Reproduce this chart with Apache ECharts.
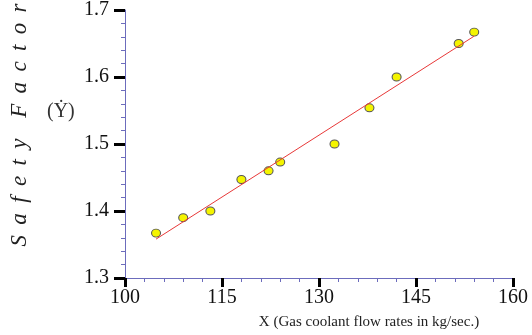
<!DOCTYPE html>
<html>
<head>
<meta charset="utf-8">
<script src="https://cdn.jsdelivr.net/npm/echarts@6/dist/echarts.min.js"></script>
</head>
<body style="margin:0;background:#fff">
<div id="chart" style="width:532px;height:335px"></div>
<script>
// measured points (x = gas coolant flow, y = safety factor)
const flowRates = [104.8, 109.0, 113.2, 118.0, 122.2, 124.0, 132.4, 137.8, 142.0, 151.6, 154.0]
const safetyFactors = [1.367, 1.390, 1.400, 1.447, 1.460, 1.473, 1.500, 1.554, 1.600, 1.650, 1.667]
// fitted line ends
const fitX = [104.8, 154.0]
const fitY = [1.358, 1.661]

const axisBlue = '#6c6cbc'
const serif = '"Liberation Serif", "Times New Roman", serif'
const gap = ' \u2009'
const yTitle = ['S', 'a', 'f', 'e', 't', 'y'].join(gap) + gap + gap + ['F', 'a', 'c', 't', 'o', 'r'].join(gap)

function axis(min, max, interval, tickLen, margin) {
  return {
    type: 'value',
    min: min,
    max: max,
    interval: interval,
    axisLine: { show: true, lineStyle: { color: axisBlue, width: 1 } },
    axisTick: { show: true, length: tickLen, lineStyle: { color: '#000', width: 3 } },
    minorTick: { show: true, splitNumber: 5, length: 4, lineStyle: { color: axisBlue, width: 1 } },
    splitLine: { show: false },
    minorSplitLine: { show: false },
    axisLabel: { color: '#111', fontFamily: serif, fontSize: 20, margin: margin }
  }
}

const xAxis = axis(100, 160, 15, 9, 10)
xAxis.name = 'X (Gas coolant flow rates in kg/sec.)'
xAxis.nameLocation = 'middle'
xAxis.nameGap = 37
xAxis.nameTextStyle = { color: '#222', fontFamily: serif, fontSize: 15, padding: [0, 0, 0, 100] }

const yAxis = axis(1.3, 1.7, 0.1, 11, 16)
yAxis.name = yTitle
yAxis.nameLocation = 'middle'
yAxis.nameRotate = 90
yAxis.nameGap = 94
yAxis.nameTextStyle = { color: '#222', fontFamily: serif, fontSize: 23, fontStyle: 'italic', padding: [0, 0, 0, 38] }

const chart = echarts.init(document.getElementById('chart'))

chart.setOption({
  animation: false,
  backgroundColor: '#fff',
  grid: { left: 111, top: 8, right: 19, bottom: 55 },
  xAxis: xAxis,
  yAxis: yAxis,
  graphic: [
    {
      type: 'text',
      left: 47, top: 102,
      style: { text: '(Ẏ)', font: '20px ' + serif, fill: '#333' }
    }
  ],
  series: [
    {
      type: 'scatter',
      data: flowRates.map((x, i) => [x, safetyFactors[i]]),
      symbol: 'circle',
      symbolSize: [9, 8],
      itemStyle: { color: '#f4f400', borderColor: '#555', borderWidth: 1, opacity: 1 },
      markLine: {
        silent: true,
        symbol: 'none',
        label: { show: false },
        lineStyle: { color: '#e83838', width: 1, type: 'solid' },
        data: [[{ coord: [fitX[0], fitY[0]] }, { coord: [fitX[1], fitY[1]] }]]
      }
    }
  ]
})
</script>
</body>
</html>
